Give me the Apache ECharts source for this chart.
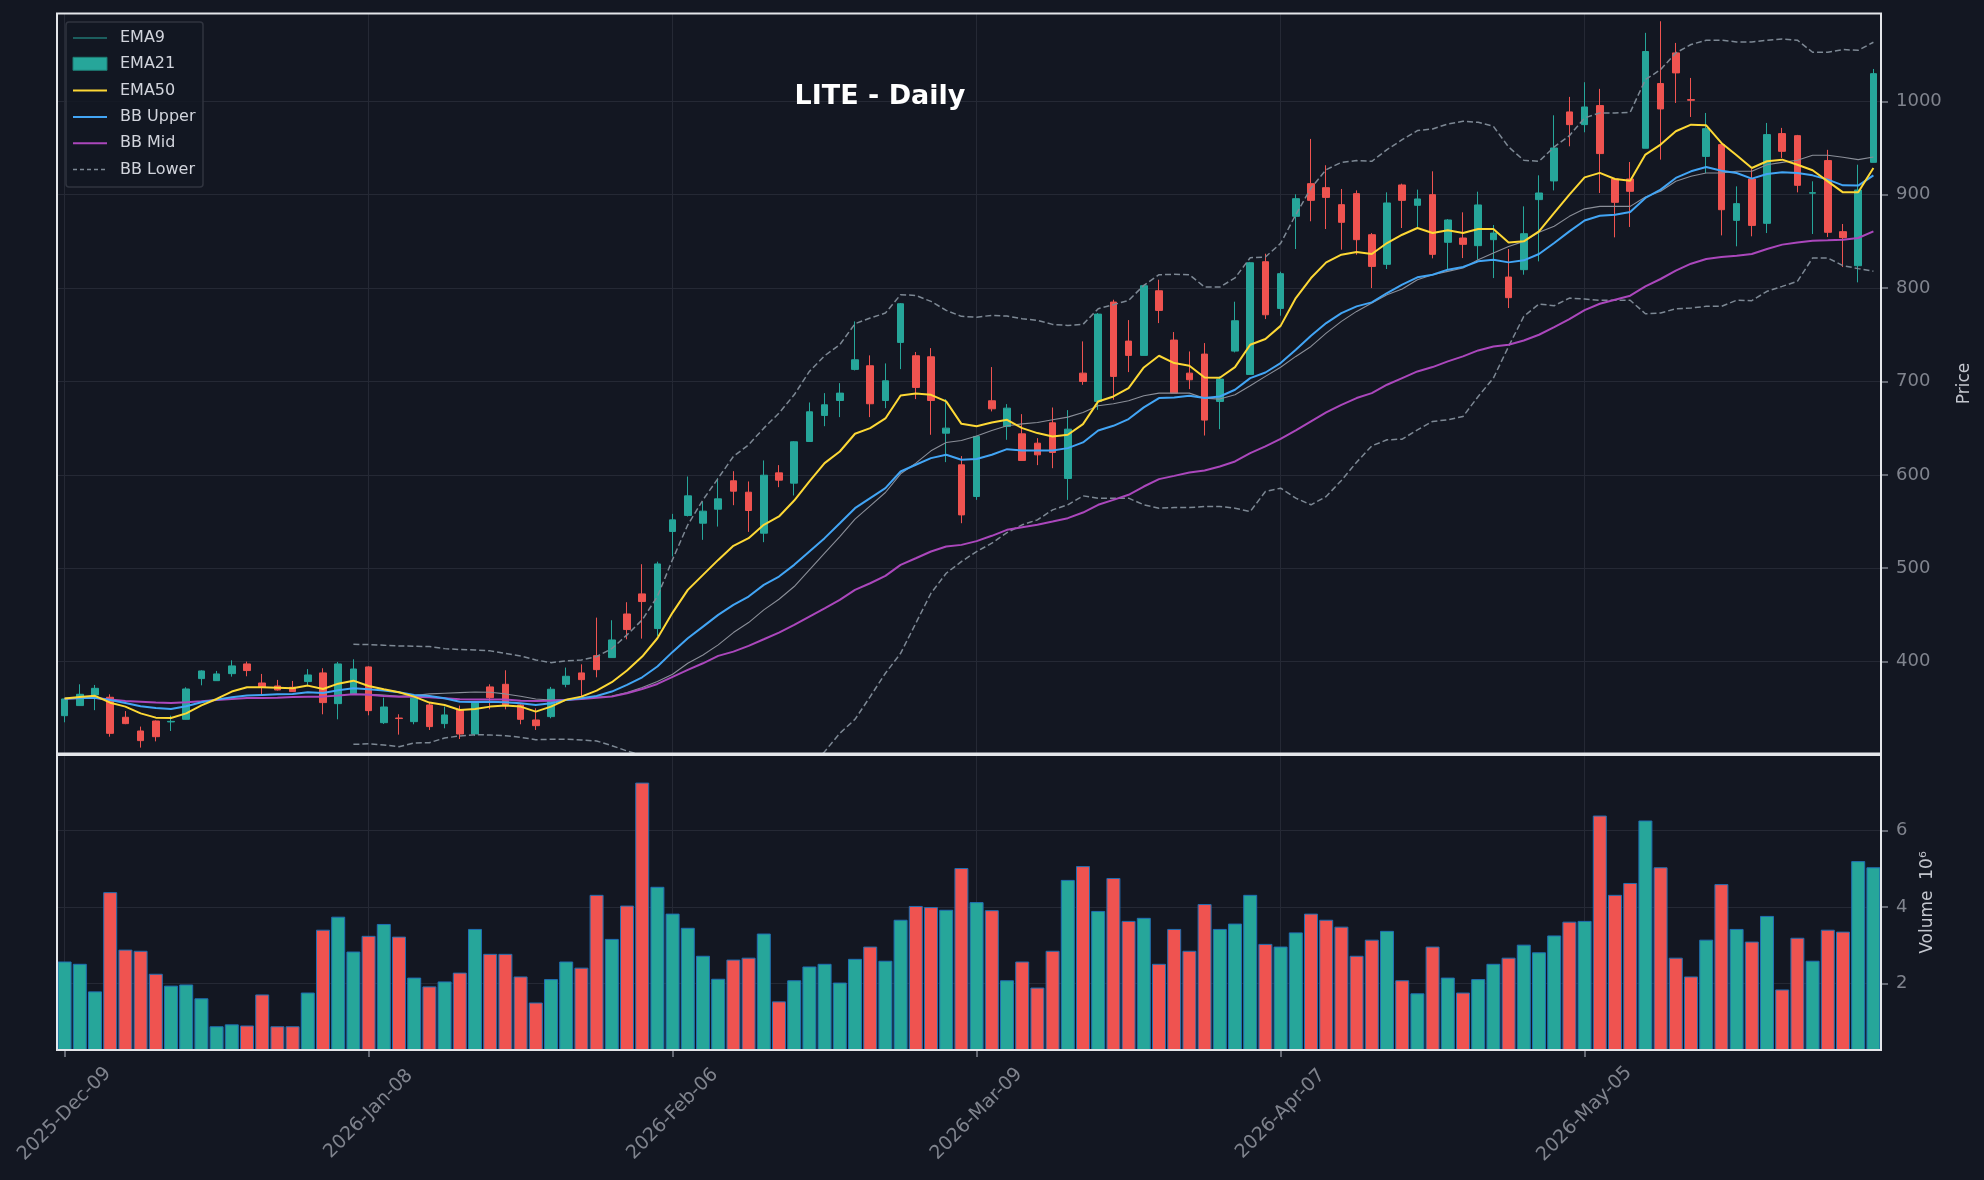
<!DOCTYPE html>
<html>
<head>
<meta charset="utf-8">
<title>LITE - Daily</title>
<script src="https://cdn.jsdelivr.net/npm/echarts@6/dist/echarts.min.js"></script>
<style>
  html, body { margin: 0; padding: 0; background: #131722; }
  #chart { width: 1984px; height: 1180px; }
</style>
</head>
<body>
<div id="chart"></div>
<script>
// trading days shown on the chart
const dates = [
  '2025-Dec-09','2025-Dec-10','2025-Dec-11','2025-Dec-12','2025-Dec-15','2025-Dec-16','2025-Dec-17','2025-Dec-18','2025-Dec-19','2025-Dec-22',
  '2025-Dec-23','2025-Dec-24','2025-Dec-26','2025-Dec-29','2025-Dec-30','2025-Dec-31','2026-Jan-02','2026-Jan-05','2026-Jan-06','2026-Jan-07',
  '2026-Jan-08','2026-Jan-09','2026-Jan-12','2026-Jan-13','2026-Jan-14','2026-Jan-15','2026-Jan-16','2026-Jan-20','2026-Jan-21','2026-Jan-22',
  '2026-Jan-23','2026-Jan-26','2026-Jan-27','2026-Jan-28','2026-Jan-29','2026-Jan-30','2026-Feb-02','2026-Feb-03','2026-Feb-04','2026-Feb-05',
  '2026-Feb-06','2026-Feb-09','2026-Feb-10','2026-Feb-11','2026-Feb-12','2026-Feb-13','2026-Feb-17','2026-Feb-18','2026-Feb-19','2026-Feb-20',
  '2026-Feb-23','2026-Feb-24','2026-Feb-25','2026-Feb-26','2026-Feb-27','2026-Mar-02','2026-Mar-03','2026-Mar-04','2026-Mar-05','2026-Mar-06',
  '2026-Mar-09','2026-Mar-10','2026-Mar-11','2026-Mar-12','2026-Mar-13','2026-Mar-16','2026-Mar-17','2026-Mar-18','2026-Mar-19','2026-Mar-20',
  '2026-Mar-23','2026-Mar-24','2026-Mar-25','2026-Mar-26','2026-Mar-27','2026-Mar-30','2026-Mar-31','2026-Apr-01','2026-Apr-02','2026-Apr-06',
  '2026-Apr-07','2026-Apr-08','2026-Apr-09','2026-Apr-10','2026-Apr-13','2026-Apr-14','2026-Apr-15','2026-Apr-16','2026-Apr-17','2026-Apr-20',
  '2026-Apr-21','2026-Apr-22','2026-Apr-23','2026-Apr-24','2026-Apr-27','2026-Apr-28','2026-Apr-29','2026-Apr-30','2026-May-01','2026-May-04',
  '2026-May-05','2026-May-06','2026-May-07','2026-May-08','2026-May-11','2026-May-12','2026-May-13','2026-May-14','2026-May-15','2026-May-18',
  '2026-May-19','2026-May-20','2026-May-21','2026-May-22','2026-May-26','2026-May-27','2026-May-28','2026-May-29','2026-Jun-01','2026-Jun-02'
];

// which categories get a tick label, and the value-axis ticks
const xTickIdx = [0, 20, 40, 60, 80, 100];
const priceTicks = [400, 500, 600, 700, 800, 900, 1000];
const volumeTicks = [2, 4, 6];

const opens = [
  342.1,352.9,364.3,361.8,340.4,325.7,336.4,335.4,338.2,381.8,
  379.6,387.1,397.5,377.1,373.9,372.5,378.6,387.9,355.0,365.0,
  394.3,334.6,339.6,335.7,353.6,333.6,348.2,322.5,372.9,375.7,
  353.6,337.5,341.1,375.7,387.9,406.4,404.3,451.0,472.5,435.4,
  539.3,556.5,548.2,563.2,593.6,581.4,537.5,602.1,591.1,635.7,
  663.6,679.6,712.9,716.8,679.6,741.8,727.5,726.4,644.6,610.7,
  576.8,679.3,651.8,643.9,633.9,655.7,596.1,708.9,678.6,785.0,
  743.2,727.9,797.1,744.3,708.9,729.3,678.6,732.5,707.5,828.2,
  778.2,876.8,911.8,907.5,889.3,901.1,857.1,825.4,910.4,888.6,
  900.0,849.0,853.6,845.4,851.8,811.8,819.7,894.7,914.7,988.6,
  975.0,995.4,916.8,916.8,949.7,1019.0,1051.8,1001.8,941.0,953.6,
  872.5,916.8,869.3,965.4,963.2,901.6,936.5,860.4,823.9,934.6
];
const closes = [
  360.0,365.0,371.4,323.2,333.6,315.4,319.6,336.0,370.7,390.0,
  386.8,395.4,390.4,372.5,369.6,367.9,385.7,356.1,397.5,392.1,
  347.5,351.4,339.0,361.4,330.4,342.9,322.5,356.4,361.4,353.6,
  338.2,331.4,370.4,384.3,380.7,391.4,423.2,434.3,464.3,504.6,
  551.8,577.5,561.1,574.3,582.5,561.8,599.6,594.3,635.4,667.5,
  675.0,687.5,723.2,676.1,700.7,783.2,693.6,679.6,650.0,557.1,
  641.1,670.7,671.4,615.4,621.4,623.9,648.9,700.0,772.1,705.4,
  727.9,802.5,776.1,687.5,701.8,658.6,702.5,765.0,827.1,771.4,
  815.4,895.7,893.9,897.1,870.4,851.8,823.2,891.1,893.9,895.4,
  836.1,872.9,846.8,889.0,858.9,789.7,858.2,901.8,950.0,975.0,
  993.9,944.0,891.8,903.6,1053.3,991.8,1030.4,1001.1,970.7,883.9,
  890.4,867.1,964.3,946.4,910.0,902.1,859.7,854.0,905.0,1029.6
];
const lows = [
  335.0,352.5,348.0,319.6,333.0,307.9,314.6,325.7,338.0,374.6,
  379.6,383.9,384.3,365.0,369.0,367.5,375.0,343.6,338.2,365.0,
  342.5,333.2,321.8,332.9,326.8,328.6,317.1,320.4,348.9,348.9,
  332.9,326.8,339.3,372.5,362.5,383.2,404.0,423.9,424.6,427.5,
  512.5,555.4,530.4,544.6,567.5,538.9,527.9,586.8,577.9,635.7,
  652.1,661.8,711.8,661.8,671.4,713.2,681.1,642.9,613.6,548.2,
  573.2,667.9,637.5,615.4,610.4,607.1,573.2,696.4,669.6,680.4,
  710.0,727.9,762.5,687.5,691.8,642.1,648.9,731.1,707.5,766.8,
  770.4,841.8,871.5,863.2,841.1,835.7,800.0,820.4,864.3,864.3,
  831.8,819.7,832.1,830.4,810.7,778.6,814.3,828.6,904.6,951.8,
  966.8,901.8,854.3,865.4,949.7,937.5,998.2,983.2,923.2,856.4,
  844.7,855.4,858.9,939.3,902.5,857.9,854.6,822.5,806.1,934.6
];
const highs = [
  361.0,375.7,375.0,365.0,347.0,330.4,337.0,342.1,372.5,390.7,
  390.0,401.4,400.0,386.8,380.4,379.3,392.0,392.9,399.6,402.5,
  395.0,361.4,343.6,362.5,356.0,351.8,352.9,357.0,375.7,390.7,
  354.3,350.0,372.9,393.6,397.1,447.1,444.3,463.6,504.3,507.0,
  558.2,598.2,571.4,596.4,603.9,592.9,615.4,610.4,636.0,677.5,
  687.5,698.2,764.3,727.9,719.3,784.0,731.5,735.7,681.1,620.1,
  642.0,715.4,675.7,665.0,639.3,672.1,669.3,742.9,773.2,787.5,
  765.7,803.2,808.9,752.9,732.1,741.1,705.4,785.4,828.0,836.8,
  817.5,900.4,959.7,931.5,906.1,904.6,858.9,902.5,911.8,905.4,
  925.0,873.9,881.1,903.2,867.5,841.8,887.5,920.7,985.0,1004.7,
  1020.4,1013.3,917.9,935.0,1073.3,1085.7,1062.5,1025.0,987.5,954.3,
  908.9,927.5,976.8,971.5,964.0,914.3,948.0,868.6,932.1,1034.6
];

// volume in millions of shares
const volumes = [
  2.58,2.52,1.80,4.39,2.89,2.86,2.26,1.95,1.98,1.62,
  0.89,0.94,0.91,1.72,0.89,0.89,1.77,3.41,3.75,2.84,
  3.25,3.56,3.23,2.16,1.93,2.06,2.29,3.43,2.78,2.78,
  2.19,1.51,2.12,2.58,2.42,4.32,3.17,4.04,7.25,4.53,
  3.83,3.46,2.73,2.13,2.63,2.68,3.31,1.54,2.09,2.45,
  2.52,2.03,2.65,2.97,2.60,3.67,4.03,4.00,3.93,5.02,
  4.13,3.92,2.09,2.58,1.90,2.86,4.71,5.07,3.90,4.76,
  3.64,3.72,2.52,3.43,2.86,4.08,3.43,3.57,4.32,3.04,
  2.97,3.34,3.83,3.67,3.49,2.73,3.15,3.38,2.09,1.75,
  2.97,2.16,1.77,2.12,2.52,2.68,3.02,2.82,3.26,3.62,
  3.64,6.39,4.32,4.63,6.26,5.04,2.68,2.19,3.15,4.60,
  3.43,3.10,3.77,1.85,3.20,2.60,3.41,3.36,5.20,5.04
];

// indicator lines
const emaFast = [
  360.5,362.0,363.4,356.0,351.8,344.6,340.0,339.6,344.6,353.2,
  360.0,367.9,372.5,372.5,372.1,371.4,374.3,370.7,376.4,379.6,
  373.9,370.4,367.2,362.5,356.1,353.6,348.2,349.3,351.8,352.9,
  351.8,346.4,351.8,359.3,362.5,368.9,377.9,390.4,405.4,425.0,
  452.5,476.8,492.9,508.9,524.0,532.2,546.5,555.4,572.5,592.9,
  612.5,625.0,644.0,650.0,660.4,685.0,687.1,685.7,678.6,654.6,
  652.0,656.1,658.9,650.0,644.7,641.1,642.9,654.3,678.6,683.9,
  692.9,715.0,727.5,719.7,716.8,704.3,704.0,715.4,739.3,745.4,
  759.5,789.3,810.7,827.5,835.7,838.6,836.4,848.2,857.1,864.3,
  858.9,861.8,858.9,863.2,863.2,848.9,850.0,860.7,880.4,900.0,
  918.5,923.3,916.8,915.0,942.9,953.6,967.9,975.0,974.3,955.4,
  942.2,928.6,935.8,937.5,932.1,926.1,914.3,902.5,902.5,928.6
];
const emaMid = [
  360.3,361.0,361.4,359.0,355.7,352.1,350.4,349.3,352.1,356.4,
  359.3,361.8,363.6,364.3,365.0,365.4,367.2,366.4,369.3,371.4,
  370.4,369.0,367.2,364.3,363.2,360.7,357.1,356.8,357.1,356.4,
  355.4,353.6,355.4,359.0,360.7,363.2,367.9,375.0,383.2,394.7,
  410.4,425.0,437.5,450.0,460.8,469.7,482.2,491.1,503.6,517.9,
  532.2,548.2,564.3,575.0,585.7,603.6,610.8,617.9,621.5,616.1,
  617.0,621.5,627.5,626.1,626.1,626.1,628.6,634.7,647.5,652.5,
  659.7,672.2,682.2,682.9,684.7,682.2,683.9,691.1,703.6,709.6,
  719.7,734.0,749.0,762.5,773.2,780.4,784.7,794.7,803.6,811.5,
  814.3,819.7,822.5,828.6,830.4,827.5,829.7,836.5,848.2,860.7,
  872.3,877.5,878.6,881.5,896.5,905.4,917.9,925.0,929.7,925.7,
  923.2,917.2,922.2,923.9,923.2,920.7,916.1,910.0,909.7,920.7
];
const emaSlow = [
  360.3,361.0,361.1,359.3,357.9,357.1,356.1,355.7,356.4,357.5,
  358.9,360.0,361.1,361.1,361.4,362.1,362.5,362.5,363.6,365.0,
  364.5,363.2,362.5,362.5,361.8,360.7,359.6,359.3,359.3,359.3,
  358.2,357.9,358.2,358.9,360.0,361.4,362.5,366.1,370.7,376.1,
  383.6,391.1,398.2,406.1,410.7,416.8,423.9,431.1,439.3,448.2,
  457.1,466.1,476.8,483.9,491.8,503.6,510.7,517.9,523.2,525.0,
  529.0,534.7,541.1,543.9,546.5,550.0,553.6,559.6,567.9,573.2,
  578.6,587.5,595.4,598.9,602.5,604.7,608.9,614.3,623.2,630.4,
  638.4,647.5,657.2,666.8,675.0,682.2,687.5,696.5,703.6,710.7,
  715.4,721.5,726.8,733.2,737.5,739.3,743.9,750.0,758.2,766.8,
  776.4,783.2,787.5,791.8,801.8,809.7,818.6,826.1,831.1,833.2,
  834.7,836.5,841.8,846.5,848.9,850.7,851.1,851.8,853.6,860.7
];
const bbMid = [
  null,null,null,null,null,null,null,null,null,null,
  null,null,null,null,null,null,null,null,null,365.0,
  365.0,364.3,362.9,363.6,365.4,366.1,366.8,367.5,367.2,365.4,
  362.9,360.0,358.9,359.3,360.0,361.8,363.2,366.8,372.2,378.6,
  386.5,398.2,407.1,417.9,431.1,441.8,455.4,466.8,480.4,498.2,
  516.1,533.9,552.5,566.8,581.1,601.1,612.5,625.7,634.7,636.8,
  641.5,647.5,652.5,654.6,656.1,658.9,661.8,666.8,673.9,676.1,
  679.3,684.7,687.5,687.5,687.5,682.1,681.1,685.7,695.4,705.4,
  715.2,726.8,737.5,751.8,764.3,775.0,783.9,792.9,798.9,808.9,
  814.3,817.9,821.5,830.4,837.5,844.6,850.0,859.7,866.1,876.8,
  884.8,887.5,887.5,887.5,897.5,903.6,914.3,919.7,923.2,923.2,
  925.0,925.0,932.1,934.6,936.8,942.2,942.2,940.0,937.5,940.4
];
const bbUpper = [
  null,null,null,null,null,null,null,null,null,null,
  null,null,null,null,null,null,null,null,null,418.6,
  418.2,417.5,416.8,416.5,416.1,413.9,412.9,412.5,411.5,408.9,
  406.1,401.8,398.9,400.7,401.8,405.4,413.9,428.6,444.7,469.7,
  509.5,546.5,573.2,596.4,619.7,632.1,650.0,666.1,685.7,710.7,
  727.5,739.3,761.8,767.9,773.2,792.9,792.1,785.7,776.1,769.7,
  768.8,770.8,770.0,767.2,765.4,761.1,760.0,761.1,777.9,782.2,
  786.8,802.9,814.3,814.7,814.3,801.1,801.1,810.8,832.5,833.2,
  847.8,878.6,907.1,926.8,934.6,936.5,935.7,948.2,958.9,968.6,
  970.4,975.7,978.6,977.5,973.2,951.1,936.8,935.7,951.1,963.2,
  982.2,987.5,987.5,988.2,1023.2,1033.9,1051.8,1060.8,1065.4,1065.4,
  1063.6,1063.6,1065.4,1066.8,1065.4,1052.5,1052.5,1055.4,1054.6,1063.2
];
const bbLower = [
  null,null,null,null,null,null,null,null,null,null,
  null,null,null,null,null,null,null,null,null,311.4,
  312.0,310.8,308.9,312.9,313.2,318.2,320.4,321.8,321.4,320.7,
  318.9,316.4,316.8,316.8,316.1,315.0,310.0,304.3,299.7,287.5,
  264.2,249.9,241.0,239.4,242.5,251.5,260.8,267.5,275.1,285.7,
  303.6,323.2,338.2,362.5,387.5,408.9,441.1,473.2,494.6,507.1,
  517.9,526.8,538.2,546.5,551.8,562.5,567.9,577.5,575.0,575.0,
  575.0,567.9,564.3,565.0,565.0,566.1,566.1,564.3,560.7,582.1,
  585.7,575.0,567.9,576.8,594.0,613.5,631.0,637.5,638.2,648.2,
  657.2,658.9,662.5,683.9,703.6,737.5,769.7,782.9,781.1,789.3,
  788.2,786.9,786.9,786.9,772.5,773.3,777.9,778.6,780.4,780.4,
  786.9,786.5,796.5,801.8,807.2,832.2,832.2,824.0,820.8,818.0
];

(function () {
  const UP = '#26a69a';
  const DOWN = '#ef5350';
  const GRID_LINE = '#252935';
  const TICK_TEXT = '#80848e';
  const FRAME = '#e4e6ea';
  const FONT = 'DejaVu Sans';

  // panel boxes (pixels)
  const pricePanel = { left: 57, top: 13.5, width: 1824, height: 740 };
  const volPanel = { left: 57, top: 755, width: 1824, height: 295 };

  const chart = echarts.init(document.getElementById('chart'), null, { renderer: 'canvas' });

  const isTick = (index) => xTickIdx.indexOf(index) !== -1;

  // vertical grid lines sit on candle centres, so draw them as markLines
  const vGrid = {
    silent: true,
    z: 1,
    symbol: ['none', 'none'],
    label: { show: false },
    lineStyle: { color: GRID_LINE, width: 1, type: 'solid' },
    emphasis: { disabled: true },
    data: xTickIdx.map((i) => ({ xAxis: dates[i] }))
  };

  function lineSeries(name, data, color, width, dashed) {
    return {
      name: name,
      type: 'line',
      xAxisIndex: 0,
      yAxisIndex: 0,
      data: data,
      symbol: 'none',
      showSymbol: false,
      connectNulls: false,
      z: 4,
      lineStyle: { color: color, width: width, type: dashed ? [6, 3] : 'solid' },
      emphasis: { disabled: true }
    };
  }

  const candles = opens.map((o, i) => [o, closes[i], lows[i], highs[i]]);
  const volBars = volumes.map((v, i) => ({
    value: v,
    itemStyle: { color: closes[i] >= opens[i] ? UP : DOWN }
  }));

  // legend drawn by hand to mirror the original (mislabelled) key
  const legendItems = [
    { label: 'EMA9', kind: 'line', color: UP, width: 1.2 },
    { label: 'EMA21', kind: 'rect', color: UP },
    { label: 'EMA50', kind: 'line', color: '#fdd835', width: 2 },
    { label: 'BB Upper', kind: 'line', color: '#42a5f5', width: 2 },
    { label: 'BB Mid', kind: 'line', color: '#ab47bc', width: 2 },
    { label: 'BB Lower', kind: 'dash', color: '#7d8894', width: 1.3 }
  ];
  const graphics = [{
    type: 'rect',
    shape: { x: 66, y: 22, width: 137, height: 165, r: 3 },
    style: { fill: 'rgba(19,23,34,0.85)', stroke: '#30343f', lineWidth: 1.5 },
    z: 100
  }];
  legendItems.forEach((item, k) => {
    const y = 38 + k * 26.3;
    if (item.kind === 'rect') {
      graphics.push({
        type: 'rect', z: 101,
        shape: { x: 73, y: y - 7, width: 34, height: 13 },
        style: { fill: item.color, stroke: '#1d7d74', lineWidth: 1 }
      });
    } else {
      graphics.push({
        type: 'line', z: 101,
        shape: { x1: 73, y1: y, x2: 107, y2: y },
        style: { stroke: item.color, lineWidth: item.width, lineDash: item.kind === 'dash' ? [4, 3] : null }
      });
    }
    graphics.push({
      type: 'text', z: 101, x: 120, y: y,
      style: { text: item.label, fill: '#d1d4dc', fontSize: 16, fontFamily: FONT, align: 'left', verticalAlign: 'middle' }
    });
  });

  // white panel frames on top of everything
  [pricePanel, volPanel].forEach((p) => {
    graphics.push({
      type: 'rect', z: 90, silent: true,
      shape: { x: p.left, y: p.top, width: p.width, height: p.height },
      style: { fill: null, stroke: FRAME, lineWidth: 2 }
    });
  });

  graphics.push({
    type: 'text', x: 880, y: 97, z: 101,
    style: { text: 'LITE - Daily', fill: '#ffffff', fontSize: 27, fontWeight: 'bold', fontFamily: FONT, align: 'center', verticalAlign: 'middle' }
  });

  const option = {
    backgroundColor: '#131722',
    animation: false,
    textStyle: { fontFamily: FONT },
    grid: [
      Object.assign({ show: false }, pricePanel),
      Object.assign({ show: false }, volPanel)
    ],
    xAxis: [
      {
        type: 'category', gridIndex: 0, data: dates, boundaryGap: true,
        axisLine: { show: false }, axisTick: { show: false }, axisLabel: { show: false }, splitLine: { show: false }
      },
      {
        type: 'category', gridIndex: 1, data: dates, boundaryGap: true,
        axisLine: { show: false },
        axisTick: { show: true, alignWithLabel: true, interval: (i) => isTick(i), length: 7, lineStyle: { color: TICK_TEXT, width: 1.5 } },
        axisLabel: {
          interval: (i) => isTick(i), rotate: 45, align: 'center', verticalAlign: 'middle', margin: 64,
          color: TICK_TEXT, fontSize: 19, fontFamily: FONT
        },
        splitLine: { show: false }
      }
    ],
    yAxis: [
      {
        type: 'value', gridIndex: 0, position: 'right', min: 301.6, max: 1094,
        splitNumber: 8, minInterval: 100, maxInterval: 100,
        axisLine: { show: false },
        axisTick: { show: true, length: 7, customValues: priceTicks, lineStyle: { color: TICK_TEXT, width: 1.5 } },
        axisLabel: {
          margin: 15, color: TICK_TEXT, fontSize: 18, fontFamily: FONT, customValues: priceTicks,
          formatter: (v) => (Math.abs(v % 100) < 1e-6 ? String(v) : '')
        },
        splitLine: { lineStyle: { color: GRID_LINE, width: 1 } },
        name: 'Price', nameLocation: 'middle', nameGap: 75, nameRotate: 90,
        nameTextStyle: { color: '#c3c6ce', fontSize: 17, fontFamily: FONT }
      },
      {
        type: 'value', gridIndex: 1, position: 'right', min: 0.27, max: 7.97,
        splitNumber: 4, minInterval: 2, maxInterval: 2,
        axisLine: { show: false },
        axisTick: { show: true, length: 7, customValues: volumeTicks, lineStyle: { color: TICK_TEXT, width: 1.5 } },
        axisLabel: {
          margin: 15, color: TICK_TEXT, fontSize: 18, fontFamily: FONT, customValues: volumeTicks,
          formatter: (v) => (Math.abs(v % 2) < 1e-6 ? String(v) : '')
        },
        splitLine: { lineStyle: { color: GRID_LINE, width: 1 } },
        name: 'Volume  10⁶', nameLocation: 'middle', nameGap: 38, nameRotate: 90,
        nameTextStyle: { color: '#c3c6ce', fontSize: 17, fontFamily: FONT }
      }
    ],
    series: [
      {
        name: 'Price', type: 'candlestick', xAxisIndex: 0, yAxisIndex: 0,
        data: candles, barWidth: '48%', z: 2,
        itemStyle: { color: UP, color0: DOWN, borderColor: UP, borderColor0: DOWN, borderWidth: 1 },
        emphasis: { disabled: true },
        markLine: vGrid
      },
      lineSeries('SMA20', bbMid, '#8a8e98', 1.1, false),
      lineSeries('BB Upper', bbUpper, '#7d8894', 1.5, true),
      lineSeries('BB Lower', bbLower, '#7d8894', 1.5, true),
      lineSeries('EMA50', emaSlow, '#ab47bc', 2, false),
      lineSeries('EMA21', emaMid, '#42a5f5', 2, false),
      lineSeries('EMA9', emaFast, '#fdd835', 2, false),
      {
        name: 'Volume', type: 'bar', xAxisIndex: 1, yAxisIndex: 1,
        data: volBars, barWidth: '92%', z: 2,
        itemStyle: { borderColor: '#1f6fb4', borderWidth: 1 },
        emphasis: { disabled: true },
        markLine: vGrid
      }
    ],
    graphic: graphics
  };

  chart.setOption(option);
})();
</script>
</body>
</html>
